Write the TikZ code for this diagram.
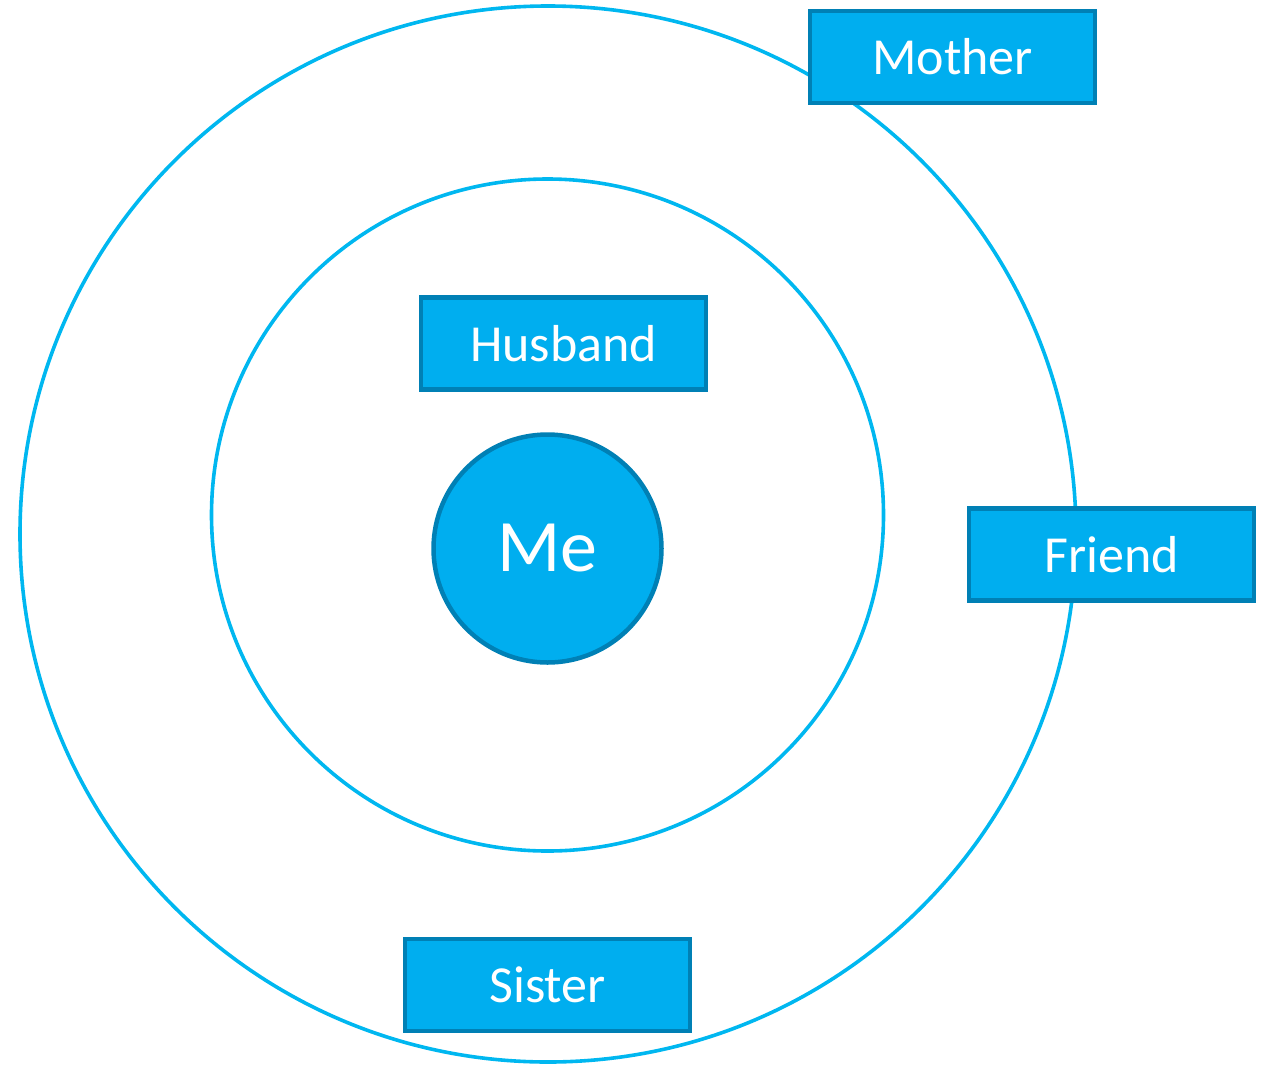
\documentclass[tikz,border=0pt]{standalone}
\usepackage{fontspec}
\setmainfont{Carlito}
\definecolor{boxfill}{HTML}{00AEEF}
\definecolor{boxline}{HTML}{0080B5}
\definecolor{ringline}{HTML}{00B7F0}
\begin{document}
\begin{tikzpicture}[x=1pt,y=-1pt,
    ring/.style={circle,draw=ringline,line width=3.6pt,inner sep=0pt},
    person/.style={rectangle,draw=boxline,fill=boxfill,line width=4.5pt,
        minimum width=285pt,minimum height=92pt,text=white,font=\fontsize{52}{60}\selectfont},
    me/.style={circle,draw=boxline,fill=boxfill,line width=4.5pt,minimum size=228pt,
        text=white,font=\fontsize{74}{86}\selectfont}]
    % Khung hinh
    \useasboundingbox (0,0) rectangle (1268,1066);
    
    % Hai vong tron
    \node[ring,minimum size=1056pt] (outer) at (548,534) {};
    \node[ring,minimum size=672pt] (inner) at (547.5,515) {};
    
    % Nut trung tam
    \node[me] (me) at (547.5,548.5) {Me};
    
    % Cac o nguoi than
    \node[person] (husband) at (563.5,343.5) {Husband};
    \node[person] (mother) at (952.5,57) {Mother};
    \node[person] (friend) at (1111.5,554.5) {Friend};
    \node[person] (sister) at (547.5,985) {Sister};
\end{tikzpicture}
\end{document}
